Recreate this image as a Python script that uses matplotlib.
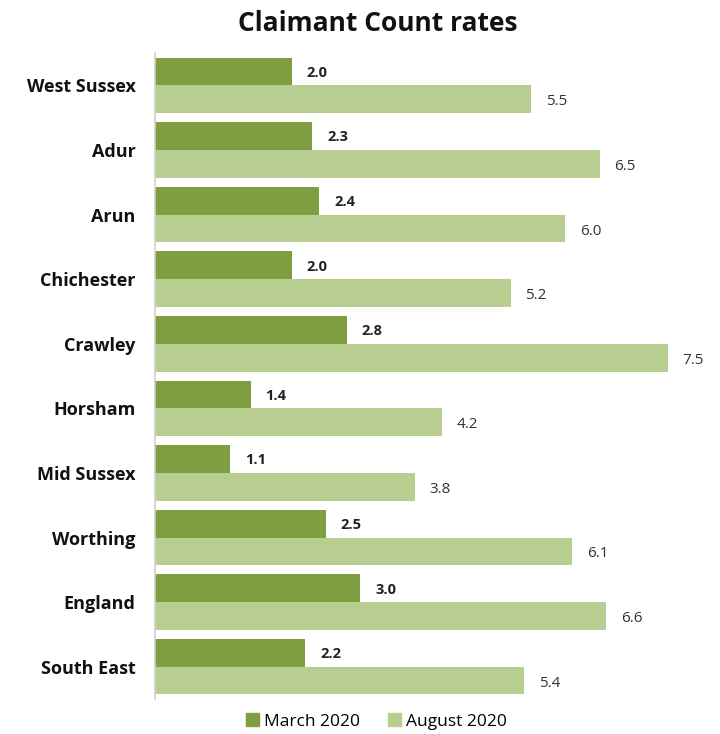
import matplotlib
matplotlib.use("Agg")
import matplotlib.pyplot as plt
from matplotlib.patches import Patch

categories = ["West Sussex", "Adur", "Arun", "Chichester", "Crawley", "Horsham",
              "Mid Sussex", "Worthing", "England", "South East"]
march_2020 = [2.0, 2.3, 2.4, 2.0, 2.8, 1.4, 1.1, 2.5, 3.0, 2.2]
august_2020 = [5.5, 6.5, 6.0, 5.2, 7.5, 4.2, 3.8, 6.1, 6.6, 5.4]
series_names = ["March 2020", "August 2020"]

c_march = "#7f9e42"
c_aug = "#b8cd90"

plt.rcParams['font.family'] = ['Open Sans', 'DejaVu Sans']

fig = plt.figure(figsize=(7.2, 7.34), dpi=100)
ax = fig.add_axes([0.2153, 0.0477, 0.76, 0.880])

h = 0.43
y = list(range(len(categories)))
ax.barh([i - h / 2 for i in y], march_2020, height=h, color=c_march)
ax.barh([i + h / 2 for i in y], august_2020, height=h, color=c_aug)

for i, (m, a) in enumerate(zip(march_2020, august_2020)):
    ax.text(m + 0.37, i - h / 2 + 0.02, f"{m:.1f}", ha="center", va="center",
            fontsize=10.5, fontweight="bold", color="#222222")
    ax.text(a + 0.37, i + h / 2 + 0.04, f"{a:.1f}", ha="center", va="center",
            fontsize=11, color="#333333")

ax.set_ylim(len(categories) - 0.5, -0.5)
ax.set_xlim(0, 8)
ax.set_yticks(y)
ax.set_yticklabels(categories, fontsize=13, fontweight="bold", color="#111111")
ax.tick_params(axis="y", length=0, pad=14)
ax.set_xticks([])
for s in ["top", "right", "bottom"]:
    ax.spines[s].set_visible(False)
ax.spines["left"].set_color("#d0d0d0")
ax.spines["left"].set_linewidth(1.2)

fig.text(0.525, 0.968, "Claimant Count rates", ha="center", va="center",
         fontsize=19, fontweight="bold", color="#111111")

handles = [Patch(color=c_march, label=series_names[0]),
           Patch(color=c_aug, label=series_names[1])]
fig.legend(handles=handles, loc="center", bbox_to_anchor=(0.523, 0.017), ncol=2,
           frameon=False, fontsize=12.5, handlelength=0.75, handleheight=0.75,
           handletextpad=0.3, columnspacing=1.6)

fig.savefig("out.png", dpi=100, facecolor="white")
